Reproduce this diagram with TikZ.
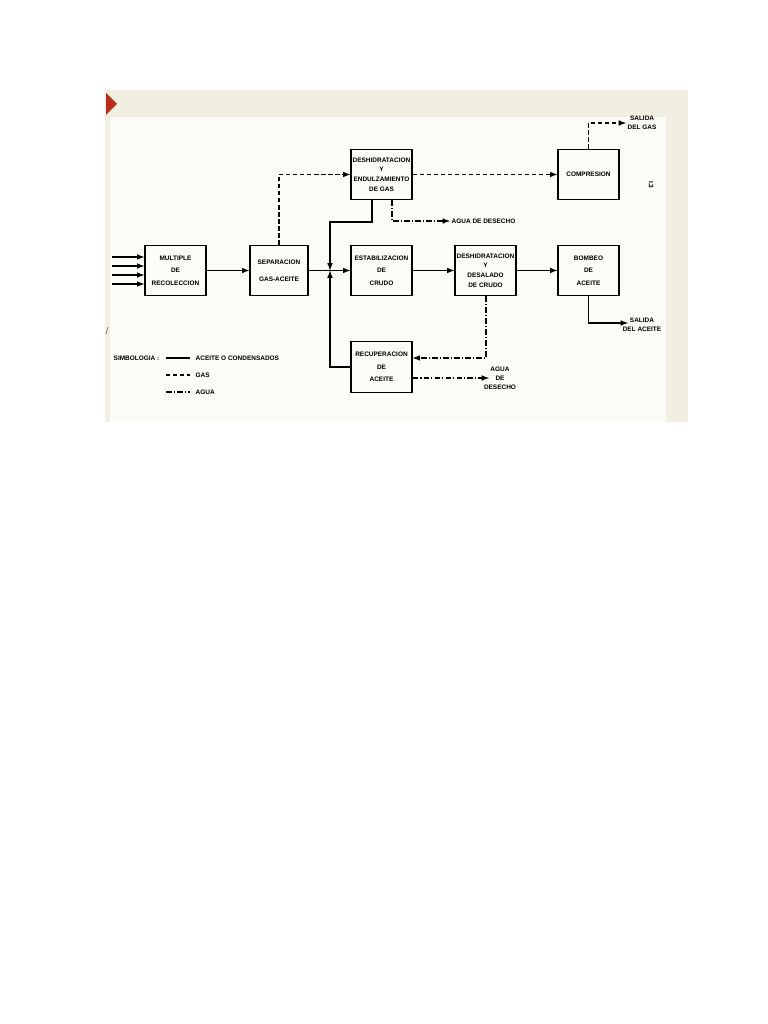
\documentclass[tikz,border=0pt]{standalone}
\usepackage{fontspec}
\setmainfont{Liberation Sans}
\usepackage{tikz}
\definecolor{cream}{RGB}{240,239,226}
\definecolor{paper}{RGB}{251,251,248}
\definecolor{tabred}{RGB}{185,45,25}
\tikzset{
  proc/.style={draw, line width=0.9pt, minimum width=1.525cm, minimum height=1.26cm, inner sep=0pt, align=center, font=\fontsize{4.6}{6.8}\selectfont\bfseries},
  lbl/.style={inner sep=1pt, align=center, font=\fontsize{4.6}{6.5}\selectfont\bfseries},
  oilline/.style={line width=0.8pt},
  gasline/.style={line width=0.8pt, dash pattern=on 3pt off 2pt},
  waterline/.style={line width=0.8pt, dash pattern=on 4pt off 1.5pt on 0.8pt off 1.5pt},
  oil/.style={oilline, -latex},
  gas/.style={gasline, -latex},
  water/.style={waterline, -latex}
}

\begin{document}
\begin{tikzpicture}[x=0.025cm, y=-0.025cm]
\useasboundingbox (0,0) rectangle (768,1024);
\fill[white] (0,0) rectangle (768,1024);
\fill[cream] (105,90) rectangle (688,422);
\fill[paper] (110,117) rectangle (666,422);
\fill[tabred] (106,93) -- (117,104) -- (106,115) -- cycle;
\draw[line width=0.6pt, gray] (106,334) -- (108,327);

\node[proc] (mult) at (175.5,270.5) {MULTIPLE\\[2pt]DE\\[2pt]RECOLECCION};
\node[proc, minimum width=1.45cm] (sep) at (279,270.5) {SEPARACION\\[5pt]GAS-ACEITE};
\node[proc] (desgas) at (381.5,174.5) {DESHIDRATACION\\Y\\ENDULZAMIENTO\\DE GAS};
\node[proc] (comp) at (588.5,174.5) {COMPRESION};
\node[proc] (estab) at (381.5,270.5) {ESTABILIZACION\\[2pt]DE\\[2pt]CRUDO};
\node[proc] (descru) at (485.5,270.5) {DESHIDRATACION\\Y\\DESALADO\\DE CRUDO};
\node[proc] (bomb) at (588.5,270.5) {BOMBEO\\[2pt]DE\\[2pt]ACEITE};
\node[proc] (recup) at (381.5,367) {RECUPERACION\\[2pt]DE\\[2pt]ACEITE};

\node[lbl, anchor=west] (salgas) at (626,123) {SALIDA\\DEL GAS};
\node[lbl, anchor=west] (agua1) at (450,221) {AGUA DE DESECHO};
\node[lbl] (agua2) at (500,378) {AGUA\\DE\\DESECHO};
\node[lbl] (salac) at (642,325) {SALIDA\\DEL ACEITE};
\node[lbl, rotate=-90] (fig) at (651,185) {I.3};

\foreach \y [count=\i] in {257,266,275,284} {
  \coordinate (in\i) at (112,\y);
  \draw[oil] (in\i) -- (in\i -| mult.west);
}
\draw[oil] (mult) -- (sep);
\coordinate (jn) at (330,270.5);
\draw[oil] (sep) -- (estab);
\coordinate (d1) at (372,222);
\draw[oil] (desgas.south -| d1) -- (d1) -| (jn);
\draw[oil] (recup.west) -| (jn);
\draw[oil] (estab) -- (descru);
\draw[oil] (descru) -- (bomb);
\coordinate (aout) at (628,323);
\draw[oil] (bomb.south) |- (aout);

\draw[gas] (sep.north) |- (desgas.west);
\draw[gas] (desgas) -- (comp);
\draw[gas] (comp.north) |- (salgas.west);

\coordinate (w1) at (392,221);
\draw[water] (desgas.south -| w1) |- (agua1.west);
\coordinate (w2) at (486,358);
\draw[water] (descru.south -| w2) -- (w2) -- (w2 -| recup.east);
\coordinate (w3) at (489,378);
\draw[water] (recup.east |- w3) -- (w3);

\node[lbl, anchor=west] (simb) at (112,358) {SIMBOLOGIA :};
\node[lbl, anchor=west] (leg1) at (194,358) {ACEITE O CONDENSADOS};
\node[lbl, anchor=west] (leg2) at (194,375) {GAS};
\node[lbl, anchor=west] (leg3) at (194,392) {AGUA};
\draw[oilline] (166,358) -- (190,358);
\draw[gasline] (166,375) -- (190,375);
\draw[waterline] (166,392) -- (190,392);
\end{tikzpicture}
\end{document}
